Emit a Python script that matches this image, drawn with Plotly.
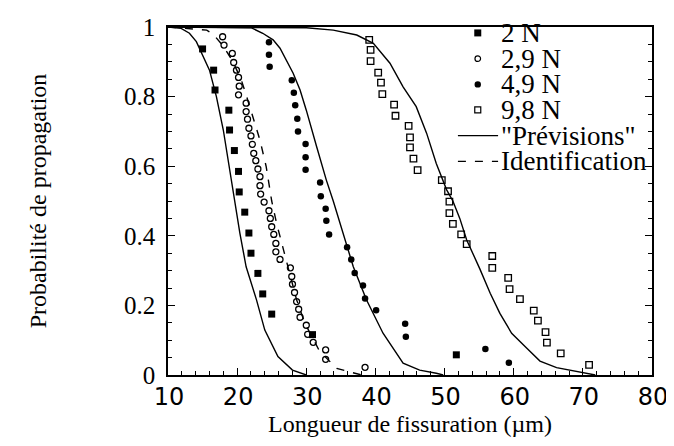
import plotly.graph_objects as go

# ---- data ----
n2_x = [15.0, 16.6, 16.8, 18.8, 18.9, 19.6, 20.2, 20.3, 21.1, 21.7, 22.0, 23.0, 23.7, 25.0, 30.9, 51.7]
n2_y = [0.937, 0.876, 0.819, 0.761, 0.704, 0.645, 0.585, 0.526, 0.468, 0.408, 0.350, 0.292, 0.233, 0.175, 0.116, 0.058]

n29_x = [17.9, 18.1, 19.3, 19.5, 19.9, 20.2, 20.3, 20.2, 21.3, 21.3, 21.5, 21.7, 22.0, 22.2, 22.4,
         22.7, 23.0, 23.3, 23.3, 23.4, 23.9, 24.6, 24.8, 25.0, 25.3, 25.6, 25.6, 26.2, 27.7, 27.9,
         28.0, 28.3, 28.6, 28.9, 29.1, 30.0, 30.2, 31.0, 32.8, 32.8, 38.5]
n29_y = [0.972, 0.948, 0.924, 0.898, 0.876, 0.855, 0.830, 0.805, 0.781, 0.757, 0.735, 0.709, 0.687, 0.663, 0.637,
         0.616, 0.592, 0.570, 0.544, 0.520, 0.497, 0.472, 0.450, 0.426, 0.404, 0.378, 0.354, 0.332, 0.308, 0.283,
         0.261, 0.237, 0.211, 0.189, 0.166, 0.143, 0.117, 0.094, 0.072, 0.045, 0.022]

n49_x = [24.6, 24.6, 24.7, 27.9, 28.2, 28.4, 28.7, 28.8, 29.9, 29.9, 29.9, 32.0, 32.1, 32.8, 32.9, 33.3,
         35.9, 36.5, 37.0, 38.2, 38.5, 40.1, 44.3, 44.4, 55.9, 59.3]
n49_y = [0.956, 0.920, 0.886, 0.847, 0.811, 0.775, 0.736, 0.700, 0.664, 0.626, 0.590, 0.553, 0.514, 0.478, 0.443, 0.404,
         0.367, 0.332, 0.293, 0.257, 0.220, 0.186, 0.147, 0.110, 0.075, 0.035]

n98_x = [39.1, 39.3, 39.3, 40.4, 40.8, 41.0, 42.7, 42.9, 44.8, 45.0, 45.0, 45.5, 46.1, 49.6, 50.5, 50.7,
         50.7, 51.2, 52.4, 53.2, 56.9, 56.9, 59.2, 59.4, 60.9, 62.9, 63.5, 64.6, 64.8, 66.8, 70.9]
n98_y = [0.963, 0.934, 0.902, 0.869, 0.840, 0.807, 0.777, 0.745, 0.716, 0.683, 0.654, 0.622, 0.589, 0.560, 0.528, 0.498,
         0.465, 0.434, 0.404, 0.376, 0.342, 0.308, 0.279, 0.247, 0.218, 0.185, 0.156, 0.123, 0.093, 0.062, 0.029]

# "Prévisions" curves
prev_a_x = [10, 11.9, 13.1, 14.1, 16.0, 17.0, 18.0, 18.9, 19.65, 20.4, 21.3, 22.8, 24.0, 25.9, 28.0, 30.0]
prev_a_y = [1.0, 0.996, 0.982, 0.958, 0.876, 0.80, 0.704, 0.589, 0.50, 0.407, 0.311, 0.216, 0.129, 0.053, 0.014, 0.0]

prev_c_x = [10, 22, 23.7, 25.2, 26.2, 27.1, 28.1, 29.1, 30.0, 31.5, 32.9, 33.9, 35.3, 36.8, 38.7, 41.1, 44.0, 46.4, 48.8, 49.8]
prev_c_y = [1.0, 0.998, 0.982, 0.963, 0.939, 0.905, 0.867, 0.819, 0.761, 0.656, 0.560, 0.50, 0.407, 0.311, 0.216, 0.120, 0.034, 0.014, 0.005, 0.0]

prev_d_x = [10, 30, 33.9, 37.3, 39.7, 42.1, 44.0, 45.9, 47.4, 48.8, 50.3, 51.2, 52.2, 53.2, 55.1, 56.6, 58.0, 59.7, 61.9, 63.8, 66.2, 69.6, 71.8]
prev_d_y = [1.0, 0.998, 0.991, 0.977, 0.953, 0.896, 0.828, 0.771, 0.695, 0.608, 0.532, 0.50, 0.45, 0.388, 0.305, 0.235, 0.177, 0.120, 0.077, 0.040, 0.021, 0.007, 0.0]

# "Identification" curve
ident_x = [10, 15.6, 16.5, 18.0, 19.4, 20.6, 21.3, 22.3, 23.3, 24.2, 25.0, 25.7, 26.4, 27.2, 28.6, 29.8, 31.9, 34.4, 37.0, 38.0]
ident_y = [1.0, 0.991, 0.98, 0.945, 0.90, 0.848, 0.805, 0.742, 0.675, 0.599, 0.50, 0.436, 0.383, 0.322, 0.216, 0.149, 0.069, 0.019, 0.004, 0.0]

legend_labels = ["2 N", "2,9 N", "4,9 N", "9,8 N", "\"Prévisions\"", "Identification"]

x_ticks = [10, 20, 30, 40, 50, 60, 70, 80]
y_ticks = [0, 0.2, 0.4, 0.6, 0.8, 1]
y_ticktext = ["0", "0.2", "0.4", "0.6", "0.8", "1"]

SERIF = "Liberation Serif, Times New Roman, serif"
SANS = "DejaVu Sans, Verdana, sans-serif"
BLACK = "black"

fig = go.Figure()

line_style = dict(color=BLACK, width=1.4)
for cx, cy in [(prev_a_x, prev_a_y), (prev_c_x, prev_c_y), (prev_d_x, prev_d_y)]:
    fig.add_trace(go.Scatter(x=cx, y=cy, mode="lines", line=line_style, name=legend_labels[4],
                             showlegend=False, hoverinfo="skip"))
fig.add_trace(go.Scatter(x=ident_x, y=ident_y, mode="lines",
                         line=dict(color=BLACK, width=1.4, dash="8px,9px"),
                         name=legend_labels[5], showlegend=False))

fig.add_trace(go.Scatter(x=n2_x, y=n2_y, mode="markers", name=legend_labels[0], showlegend=False,
                         marker=dict(symbol="square", size=7, color=BLACK, line=dict(width=0))))
fig.add_trace(go.Scatter(x=n29_x, y=n29_y, mode="markers", name=legend_labels[1], showlegend=False,
                         marker=dict(symbol="circle-open", size=6, color=BLACK, line=dict(width=1.3, color=BLACK))))
fig.add_trace(go.Scatter(x=n49_x, y=n49_y, mode="markers", name=legend_labels[2], showlegend=False,
                         marker=dict(symbol="circle", size=6.5, color=BLACK, line=dict(width=0))))
fig.add_trace(go.Scatter(x=n98_x, y=n98_y, mode="markers", name=legend_labels[3], showlegend=False,
                         marker=dict(symbol="square-open", size=6.5, color=BLACK, line=dict(width=1.3, color=BLACK))))

# ---- manual legend (compact row spacing as in the reference) ----
row_y = [0.983, 0.909, 0.835, 0.762, 0.688, 0.614]
text_x = 0.684
mark_x = 0.640
shapes = []
annotations = []
for lbl, yy in zip(legend_labels, row_y):
    annotations.append(dict(xref="paper", yref="paper", x=text_x, y=yy, xanchor="left", yanchor="middle",
                            text=lbl, showarrow=False, font=dict(family=SERIF, size=27, color=BLACK)))

def pix_shape(kind, yy, half, fill, line_w):
    return dict(type=kind, xref="paper", yref="paper", xsizemode="pixel", ysizemode="pixel",
                xanchor=mark_x, yanchor=yy, x0=-half, x1=half, y0=-half, y1=half,
                fillcolor=fill, line=dict(color=BLACK, width=line_w))

shapes.append(pix_shape("rect", row_y[0], 3.5, BLACK, 0))
shapes.append(pix_shape("circle", row_y[1], 2.8, "white", 1.2))
shapes.append(pix_shape("circle", row_y[2], 3.2, BLACK, 0))
shapes.append(pix_shape("rect", row_y[3], 3.0, "white", 1.2))
shapes.append(dict(type="line", xref="paper", yref="paper", x0=0.599, x1=0.682, y0=row_y[4], y1=row_y[4],
                   line=dict(color=BLACK, width=1.4)))
shapes.append(dict(type="line", xref="paper", yref="paper", x0=0.599, x1=0.682, y0=row_y[5], y1=row_y[5],
                   line=dict(color=BLACK, width=1.4, dash="8px,9px")))

# The page body adds an 8 px offset, so the figure is sized to fit the 674x446 window.
fig.update_layout(
    width=666, height=438,
    margin=dict(l=160, r=22, t=19, b=71, autoexpand=False),
    paper_bgcolor="white", plot_bgcolor="white",
    showlegend=False,
    shapes=shapes, annotations=annotations,
    xaxis=dict(
        range=[10, 80], tickvals=x_ticks, ticks="inside", ticklen=7, tickwidth=1.3, tickcolor=BLACK,
        minor=dict(dtick=2, ticks="inside", ticklen=4, tickwidth=1.2, tickcolor=BLACK),
        showline=True, linecolor=BLACK, linewidth=1.5, mirror=True, showgrid=False, zeroline=False,
        tickfont=dict(family=SANS, size=24, color=BLACK), ticklabelshift=1, ticklabelstandoff=-1,
        title=dict(text="Longueur de fissuration (µm)", font=dict(family=SERIF, size=24, color=BLACK), standoff=5),
    ),
    yaxis=dict(
        range=[0, 1], tickvals=y_ticks, ticktext=y_ticktext, ticks="inside", ticklen=7, tickwidth=1.3,
        tickcolor=BLACK,
        minor=dict(dtick=0.05, ticks="inside", ticklen=4, tickwidth=1.2, tickcolor=BLACK),
        showline=True, linecolor=BLACK, linewidth=1.5, mirror="ticks", showgrid=False, zeroline=False,
        tickfont=dict(family=SERIF, size=25, color=BLACK), ticklabelstandoff=6,
        title=dict(text="Probabilité de propagation", font=dict(family=SERIF, size=24, color=BLACK), standoff=71),
    ),
)

fig.write_html("out.html")
